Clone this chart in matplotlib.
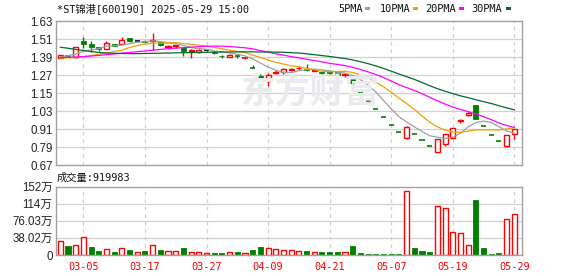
import matplotlib
matplotlib.use("Agg")
import matplotlib.pyplot as plt
from matplotlib.patches import Rectangle

# ---------------- data ----------------
dates = ['02-28', '03-03', '03-04', '03-05', '03-06', '03-07', '03-10', '03-11', '03-12', '03-13',
         '03-14', '03-17', '03-18', '03-19', '03-20', '03-21', '03-24', '03-25', '03-26', '03-27',
         '03-28', '03-31', '04-01', '04-02', '04-03', '04-07', '04-08', '04-09', '04-10', '04-11',
         '04-14', '04-15', '04-16', '04-17', '04-18', '04-21', '04-22', '04-23', '04-24', '04-25',
         '04-28', '04-29', '05-06', '05-07', '05-08', '05-09', '05-12', '05-13', '05-14', '05-15',
         '05-16', '05-19', '05-20', '05-21', '05-22', '05-23', '05-26', '05-27', '05-28', '05-29']
tick_labels = ['03-05', '03-17', '03-27', '04-09', '04-21', '05-07', '05-19', '05-29']

opens = [1.388, 1.400, 1.390, 1.501, 1.479, 1.455, 1.444, 1.479, 1.477, 1.516,
         1.497, 1.500, 1.499, 1.494, 1.460, 1.465, 1.450, 1.430, 1.428, 1.438,
         1.425, 1.400, 1.393, 1.398, 1.383, 1.318, 1.267, 1.232, 1.285, 1.290,
         1.305, 1.315, 1.310, 1.300, 1.290, 1.290, 1.289, 1.270, 1.265, 1.158,
         1.100, 1.046, 0.991, 0.941, 0.890, 0.850, 0.881, 0.836, 0.801, 0.758,
         0.807, 0.853, 0.962, 1.004, 1.074, 0.931, 0.871, 0.831, 0.795, 0.875]
highs = [1.404, 1.405, 1.460, 1.523, 1.500, 1.456, 1.499, 1.480, 1.523, 1.518,
         1.498, 1.503, 1.550, 1.496, 1.470, 1.475, 1.455, 1.445, 1.445, 1.440,
         1.430, 1.405, 1.410, 1.405, 1.390, 1.335, 1.280, 1.285, 1.305, 1.320,
         1.320, 1.330, 1.345, 1.310, 1.295, 1.295, 1.290, 1.280, 1.270, 1.158,
         1.100, 1.046, 0.991, 0.941, 0.890, 0.930, 0.881, 0.836, 0.801, 0.842,
         0.880, 0.920, 0.975, 1.022, 1.074, 0.931, 0.871, 0.831, 0.870, 0.910]
lows = [1.386, 1.392, 1.388, 1.450, 1.428, 1.432, 1.444, 1.466, 1.477, 1.490,
        1.490, 1.490, 1.440, 1.465, 1.445, 1.450, 1.400, 1.385, 1.420, 1.430,
        1.410, 1.385, 1.390, 1.385, 1.380, 1.315, 1.245, 1.195, 1.275, 1.280,
        1.295, 1.305, 1.300, 1.295, 1.280, 1.280, 1.270, 1.260, 1.210, 1.156,
        1.099, 1.044, 0.989, 0.939, 0.889, 0.845, 0.879, 0.834, 0.799, 0.752,
        0.800, 0.850, 0.953, 1.000, 0.975, 0.929, 0.869, 0.829, 0.790, 0.847]
closes = [1.404, 1.398, 1.457, 1.479, 1.455, 1.445, 1.483, 1.468, 1.505, 1.501,
          1.497, 1.494, 1.505, 1.472, 1.465, 1.470, 1.430, 1.435, 1.440, 1.438,
          1.415, 1.395, 1.405, 1.395, 1.385, 1.317, 1.254, 1.270, 1.290, 1.310,
          1.310, 1.320, 1.305, 1.305, 1.285, 1.285, 1.272, 1.275, 1.216, 1.156,
          1.099, 1.044, 0.989, 0.939, 0.889, 0.925, 0.879, 0.834, 0.799, 0.842,
          0.880, 0.920, 0.973, 1.018, 0.979, 0.929, 0.869, 0.829, 0.870, 0.910]
volume = [31, 20, 22, 40, 18.7, 9, 13.5, 6.7, 15.7, 11,
          6, 9, 21.6, 11, 9, 8.2, 16.4, 6, 6, 3.7,
          4.5, 4.5, 6, 6.7, 4.5, 11, 18, 15.7, 13.5, 11,
          11, 8, 9, 6, 6.7, 6.7, 6.7, 6, 20, 4.5,
          2.2, 2.2, 2.2, 2.2, 2.2, 143, 15.7, 9, 6.7, 109,
          104.5, 50.7, 48.5, 21.6, 121, 15.7, 2.2, 4.5, 80.6, 91.9983]   # 万

ma5 = [1.393, 1.400, 1.410, 1.430, 1.439, 1.447, 1.464, 1.466, 1.471, 1.480,
       1.491, 1.493, 1.500, 1.494, 1.487, 1.481, 1.468, 1.454, 1.448, 1.443,
       1.432, 1.425, 1.419, 1.410, 1.399, 1.379, 1.351, 1.324, 1.303, 1.288,
       1.287, 1.300, 1.307, 1.310, 1.305, 1.300, 1.290, 1.284, 1.267, 1.241,
       1.204, 1.158, 1.101, 1.046, 0.993, 0.958, 0.925, 0.894, 0.866, 0.856,
       0.847, 0.855, 0.882, 0.925, 0.953, 0.963, 0.954, 0.926, 0.897, 0.883]
ma10 = [1.384, 1.386, 1.388, 1.394, 1.401, 1.410, 1.419, 1.428, 1.437, 1.455,
        1.468, 1.478, 1.484, 1.484, 1.485, 1.487, 1.481, 1.477, 1.470, 1.464,
        1.456, 1.446, 1.437, 1.429, 1.421, 1.405, 1.388, 1.371, 1.356, 1.344,
        1.333, 1.326, 1.316, 1.307, 1.297, 1.293, 1.295, 1.296, 1.288, 1.273,
        1.252, 1.224, 1.193, 1.156, 1.117, 1.081, 1.042, 0.998, 0.956, 0.925,
        0.903, 0.890, 0.888, 0.896, 0.905, 0.905, 0.905, 0.904, 0.911, 0.918]
ma20 = [1.388, 1.389, 1.391, 1.394, 1.398, 1.402, 1.407, 1.412, 1.417, 1.422,
        1.427, 1.432, 1.437, 1.442, 1.447, 1.451, 1.454, 1.457, 1.460, 1.463,
        1.464, 1.464, 1.461, 1.457, 1.453, 1.446, 1.434, 1.424, 1.413, 1.404,
        1.394, 1.386, 1.376, 1.368, 1.359, 1.349, 1.342, 1.334, 1.322, 1.308,
        1.292, 1.275, 1.254, 1.231, 1.207, 1.187, 1.168, 1.147, 1.122, 1.099,
        1.077, 1.057, 1.041, 1.026, 1.011, 0.993, 0.973, 0.951, 0.934, 0.921]
ma30 = [1.457, 1.450, 1.442, 1.435, 1.428, 1.422, 1.418, 1.416, 1.415, 1.414,
        1.414, 1.415, 1.416, 1.417, 1.418, 1.419, 1.420, 1.421, 1.422, 1.423,
        1.424, 1.425, 1.425, 1.426, 1.426, 1.426, 1.425, 1.425, 1.424, 1.4235,
        1.420, 1.418, 1.413, 1.407, 1.401, 1.395, 1.388, 1.381, 1.372, 1.360,
        1.347, 1.332, 1.315, 1.297, 1.278, 1.260, 1.242, 1.222, 1.200, 1.180,
        1.163, 1.147, 1.132, 1.120, 1.106, 1.093, 1.081, 1.066, 1.052, 1.0385]

price_ticks = [0.67, 0.79, 0.91, 1.03, 1.15, 1.27, 1.39, 1.51, 1.63]
vol_ticks = [0, 38.02, 76.03, 114.05, 152.07]
vol_tick_labels = ['0', '38.02万', '76.03万', '114万', '152万']
ma_names = ['5PMA', '10PMA', '20PMA', '30PMA']
title = '*ST锦港[600190] 2025-05-29 15:00'
vol_title = '成交量:919983'

# ---------------- style ----------------
RED = '#ff0000'
GREEN = '#008000'
FLAT = '#000000'
MA_COLORS = ['#a0a0a0', '#f0a000', '#ff00ff', '#006b30']
GRID = '#d0d0d0'
FRAME = '#a0a0a0'
MONO = ['DejaVu Sans Mono', 'Noto Sans CJK SC']
SANS = ['Liberation Sans', 'Noto Sans CJK SC']

W, H = 578, 276
fig = plt.figure(figsize=(W / 100, H / 100), dpi=100)
fig.patch.set_facecolor('white')

L, R = 56, 522
ax = fig.add_axes([L / W, 1 - 165 / H, (R - L) / W, (165 - 21.3) / H])
axv = fig.add_axes([L / W, 1 - 255 / H, (R - L) / W, (255 - 186.5) / H])

n = len(dates)
xs = list(range(n))
tick_pos = [dates.index(t) for t in tick_labels]

for a in (ax, axv):
    a.set_xlim(-0.56, n - 0.0)
    for s in a.spines.values():
        s.set_color(FRAME)
        s.set_linewidth(1.0)
    a.tick_params(length=0, pad=2.5, labelsize=8.3, labelcolor='#222222')
    a.set_xticks(tick_pos)
    for p in tick_pos:
        a.axvline(p, color=GRID, lw=0.9, ls=(0, (3, 3)), zorder=0)

# price panel
ax.set_ylim(0.67, 1.63)
ax.set_yticks(price_ticks)
ax.set_yticklabels([f'{v:.2f}' for v in price_ticks], family=SANS)
for v in price_ticks[1:-1]:
    ax.axhline(v, color=GRID, lw=0.9, zorder=0)
ax.set_xticklabels([])

# watermark
fig.text(310 / W, 1 - 92 / H, '东方财富', family=['Noto Sans CJK SC'], fontweight='bold',
         fontsize=25, color='#ebebef', ha='center', va='center', zorder=0, style='italic')

bw = 0.66
for i in xs:
    o, h, l, c = opens[i], highs[i], lows[i], closes[i]
    if c > o:
        col = RED
    elif c < o:
        col = GREEN
    else:
        col = FLAT
    top, bot = max(o, c), min(o, c)
    ax.vlines(i, top, h, color=col, lw=1.0, zorder=2)
    ax.vlines(i, l, bot, color=col, lw=1.0, zorder=2)
    if top - bot < 0.003:
        ax.hlines((o + c) / 2, i - bw / 2, i + bw / 2, color=col, lw=1.2, zorder=2)
    elif col == RED:
        ax.bar(i, top - bot, bottom=bot, width=bw, facecolor='white', edgecolor=RED, lw=1.0, zorder=2)
    else:
        ax.bar(i, top - bot, bottom=bot, width=bw, facecolor=GREEN, edgecolor=GREEN, lw=0.6, zorder=2)

for vals, colr in zip([ma5, ma10, ma20, ma30], MA_COLORS):
    ax.plot(xs, vals, color=colr, lw=0.9, zorder=3)

# volume panel
axv.set_ylim(0, 152.07)
axv.set_yticks(vol_ticks)
axv.set_yticklabels(vol_tick_labels, family=SANS)
for v in vol_ticks[1:-1]:
    axv.axhline(v, color=GRID, lw=0.9, zorder=0)
axv.set_xticklabels(tick_labels, family=MONO, color='#ff0000', fontsize=7.4)
axv.tick_params(axis='x', pad=5)
for lab in axv.get_xticklabels():
    lab.set_color('#ff0000')

for i in xs:
    up = closes[i] >= opens[i] or (i > 0 and closes[i] > closes[i - 1])
    if up:
        axv.bar(i, volume[i], width=bw, facecolor='white', edgecolor=RED, lw=1.0, zorder=2)
    else:
        axv.bar(i, volume[i], width=bw, facecolor=GREEN, edgecolor=GREEN, lw=0.6, zorder=2)

# texts
fig.text(57 / W, 1 - 8.5 / H, title, family=MONO, fontsize=7.4, va='center', ha='left', color='#111111')
fig.text(57 / W, 1 - 177.5 / H, vol_title, family=MONO, fontsize=7.4, va='center', ha='left', color='#111111')

# legend
leg_x = [338, 380, 425, 471]
sq_x = [365, 413, 459, 506]
for name, colr, lx, sx in zip(ma_names, MA_COLORS, leg_x, sq_x):
    fig.text(lx / W, 1 - 8.5 / H, name, family=MONO, fontsize=7.4, va='center', ha='left', color='#111111')
    fig.patches.append(Rectangle((sx / W, 1 - 10 / H), 5 / W, 3 / H, transform=fig.transFigure,
                                 facecolor=colr, edgecolor='none'))

fig.savefig('out.png', dpi=100, facecolor='white')
